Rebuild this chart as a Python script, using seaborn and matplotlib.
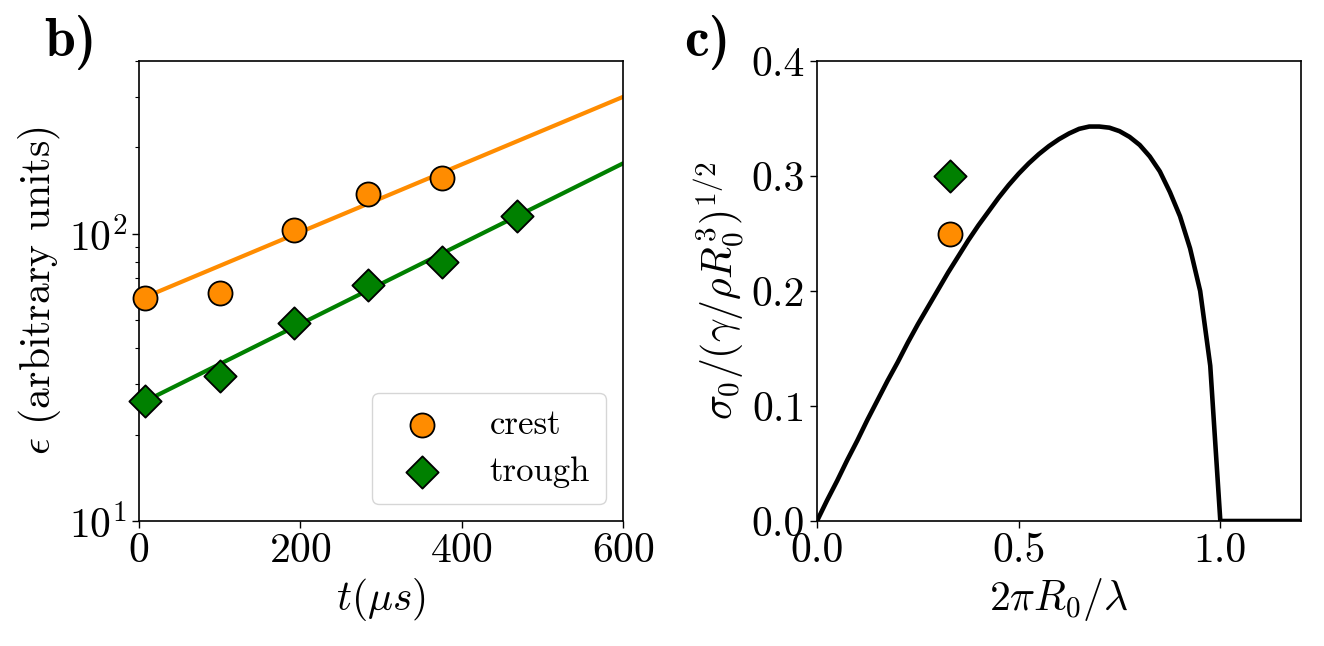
import matplotlib
matplotlib.use("Agg")
import matplotlib.pyplot as plt
import seaborn as sns
import numpy as np

# ---- data ----
t_crest = [8, 100, 192, 284, 376]
eps_crest = [60, 62, 103, 138, 156]
t_trough = [8, 100, 192, 284, 376, 468]
eps_trough = [26.2, 32, 49, 66.5, 79.5, 115.5]
fit_t = [0, 600]
crest_fit = [59, 300]
trough_fit = [25.5, 176]

k_curve = [0.0, 0.025, 0.05, 0.075, 0.10, 0.125, 0.15, 0.175, 0.20, 0.225,
           0.25, 0.275, 0.30, 0.325, 0.35, 0.375, 0.40, 0.425, 0.45, 0.475,
           0.50, 0.525, 0.55, 0.575, 0.60, 0.625, 0.65, 0.675, 0.70, 0.725,
           0.75, 0.775, 0.80, 0.825, 0.85, 0.875, 0.90, 0.925, 0.95, 0.975,
           1.0, 1.2]
sigma_curve = [0.0, 0.018, 0.035, 0.053, 0.070, 0.088, 0.105, 0.122, 0.138,
               0.155, 0.171, 0.186, 0.201, 0.216, 0.230, 0.244, 0.257, 0.269,
               0.281, 0.292, 0.302, 0.311, 0.319, 0.326, 0.332, 0.337, 0.341,
               0.343, 0.343, 0.342, 0.339, 0.334, 0.327, 0.317, 0.304, 0.286,
               0.265, 0.237, 0.200, 0.135, 0.0, 0.0]
k_point = [0.33]
sigma_crest = [0.25]
sigma_trough = [0.30]

sns.set_theme(style="white")
plt.rcParams.update({
    "font.family": "serif",
    "font.serif": ["cmr10"],
    "mathtext.fontset": "cm",
    "axes.formatter.use_mathtext": True,
    "text.color": "black",
    "axes.labelcolor": "black",
    "axes.edgecolor": "black",
    "axes.linewidth": 1.2,
    "xtick.bottom": True,
    "ytick.left": True,
    "xtick.direction": "out",
    "ytick.direction": "out",
    "xtick.major.size": 5,
    "ytick.major.size": 5,
    "ytick.minor.size": 3,
    "xtick.major.width": 1.0,
    "ytick.major.width": 1.0,
    "ytick.minor.width": 0.8,
    "xtick.color": "black",
    "ytick.color": "black",
})

fig = plt.figure(figsize=(13.24, 6.46), dpi=100)
ax1 = fig.add_axes([139/1324, 125/646, 484/1324, 460/646])
ax2 = fig.add_axes([817/1324, 125/646, 484/1324, 460/646])

orange = "#FF8C00"
green = "#008000"
FS = 30

# ---- panel b ----
sns.lineplot(x=fit_t, y=crest_fit, ax=ax1, color=orange, lw=3, zorder=2)
sns.lineplot(x=fit_t, y=trough_fit, ax=ax1, color=green, lw=3, zorder=2)
sns.scatterplot(x=t_crest, y=eps_crest, ax=ax1, marker="o", s=300,
                color=orange, edgecolor="black", linewidth=1.3, label="crest",
                zorder=3, clip_on=False)
sns.scatterplot(x=t_trough, y=eps_trough, ax=ax1, marker="D", s=270,
                color=green, edgecolor="black", linewidth=1.3, label="trough",
                zorder=3, clip_on=False)
ax1.set_yscale("log")
ax1.set_xlim(0, 600)
ax1.set_ylim(10, 400)
ax1.set_xticks([0, 200, 400, 600])
ax1.tick_params(axis="both", which="major", labelsize=FS)
ax1.set_xlabel(r"$t(\mu s)$", fontsize=FS)
ax1.set_ylabel(r"$\epsilon$ (arbitrary units)", fontsize=FS)
leg = ax1.legend(loc="lower right", fontsize=25, handlelength=2.0,
                 handletextpad=0.95, borderpad=0.45, labelspacing=0.45,
                 borderaxespad=0.5, frameon=True, edgecolor="0.8")
for sp in ax1.spines.values():
    sp.set_visible(True)
    sp.set_color("black")

# ---- panel c ----
sns.lineplot(x=k_curve, y=sigma_curve, ax=ax2, color="black", lw=3.3,
             sort=False, zorder=2)
sns.scatterplot(x=k_point, y=sigma_trough, ax=ax2, marker="D", s=270,
                color=green, edgecolor="black", linewidth=1.3, zorder=3)
sns.scatterplot(x=k_point, y=sigma_crest, ax=ax2, marker="o", s=300,
                color=orange, edgecolor="black", linewidth=1.3, zorder=3)
ax2.set_xlim(0, 1.2)
ax2.set_ylim(0, 0.4)
ax2.set_xticks([0.0, 0.5, 1.0])
ax2.set_yticks([0.0, 0.1, 0.2, 0.3, 0.4])
ax2.set_xticklabels(["0.0", "0.5", "1.0"])
ax2.set_yticklabels(["0.0", "0.1", "0.2", "0.3", "0.4"])
ax2.tick_params(axis="both", which="major", labelsize=FS)
ax2.set_xlabel(r"$2\pi R_0/\lambda$", fontsize=FS)
ax2.set_ylabel(r"$\sigma_0/(\gamma/\rho R_0^3)^{1/2}$", fontsize=FS)
for sp in ax2.spines.values():
    sp.set_visible(True)
    sp.set_color("black")

fig.text(44/1324, 1 - 56/646, "b)", family="cmb10", fontsize=40, ha="left",
         va="baseline", color="black")
fig.text(684/1324, 1 - 56/646, "c)", family="cmb10", fontsize=40, ha="left",
         va="baseline", color="black")

fig.savefig("out.png", dpi=100)
